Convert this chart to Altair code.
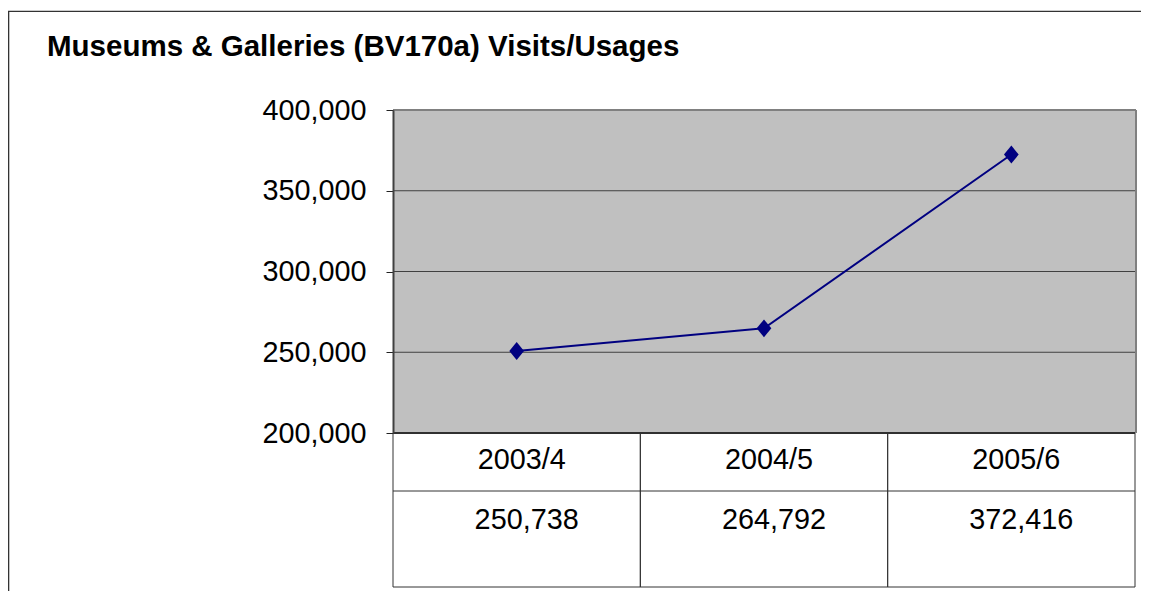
import altair as alt
import pandas as pd

title_text = "Museums & Galleries (BV170a) Visits/Usages"
years = ["2003/4", "2004/5", "2005/6"]
visits = [250738, 264792, 372416]
y_ticks = [200000, 250000, 300000, 350000, 400000]
grid_vals = [250000, 300000, 350000]

df = pd.DataFrame({"year": years, "visits": visits})
grid_df = pd.DataFrame({"v": grid_vals})
one = pd.DataFrame({"t": [title_text]})

W = 742          # plot width
H_PLOT = 323     # plot height
H_TAB = 154      # data table height
FONT = "Liberation Sans"
NAVY = "#000080"
LINE_C = "#333333"
FS = 28.8

x_scale = alt.Scale(domain=years, paddingInner=0, paddingOuter=0)
y_scale = alt.Scale(domain=[200000, 400000], nice=False, zero=False, range=[H_PLOT, 0])
y_axis = alt.Axis(
    values=y_ticks, format=",.0f", title=None, grid=False, zindex=1,
    labelFont=FONT, labelFontSize=FS, labelColor="black", labelPadding=20,
    tickSize=7, tickColor="#222222", tickWidth=1,
    domainColor="#404040", domainWidth=2,
)


def xenc(**kw):
    return alt.X("year:N", scale=x_scale, axis=None, sort=years, **kw)


def v(n):
    return alt.value(n)


bg = alt.Chart(one).mark_rect(color="#c0c0c0").encode(
    x=v(0), x2=v(W), y=v(0), y2=v(H_PLOT))
grid = alt.Chart(grid_df).mark_rule(color="#404040", strokeWidth=1).encode(
    y=alt.Y("v:Q", scale=y_scale, axis=y_axis), x=v(0), x2=v(W))
plot_top = alt.Chart(one).mark_rule(color="#808080", strokeWidth=2).encode(
    x=v(0), x2=v(W + 1), y=v(0))
plot_right = alt.Chart(one).mark_rule(color="#808080", strokeWidth=2).encode(
    x=v(W + 1), y=v(0), y2=v(H_PLOT))

# data table
vl_left = alt.Chart(df).mark_rule(color=LINE_C, strokeWidth=1).encode(
    x=xenc(bandPosition=0), y=v(H_PLOT), y2=v(H_PLOT + H_TAB))
vl_right = alt.Chart(df).mark_rule(color=LINE_C, strokeWidth=1).encode(
    x=xenc(bandPosition=1), y=v(H_PLOT), y2=v(H_PLOT + H_TAB))
h_mid = alt.Chart(one).mark_rule(color=LINE_C, strokeWidth=1).encode(
    x=v(0), x2=v(W), y=v(H_PLOT + 58))
h_bot = alt.Chart(one).mark_rule(color=LINE_C, strokeWidth=1).encode(
    x=v(0), x2=v(W), y=v(H_PLOT + H_TAB))
h_axis = alt.Chart(one).mark_rule(color="#303030", strokeWidth=2).encode(
    x=v(0), x2=v(W), y=v(H_PLOT))
cat_text = alt.Chart(df).mark_text(
    font=FONT, fontSize=FS, baseline="alphabetic", dx=5, color="black"
).encode(x=xenc(), y=v(H_PLOT + 36), text="year:N")
val_text = alt.Chart(df).mark_text(
    font=FONT, fontSize=FS, baseline="alphabetic", dx=10, color="black"
).encode(x=xenc(), y=v(H_PLOT + 96), text=alt.Text("visits:Q", format=",.0f"))

# series
line = alt.Chart(df).mark_line(color=NAVY, strokeWidth=2).encode(
    x=xenc(), y=alt.Y("visits:Q", scale=y_scale, axis=y_axis))
pts = alt.Chart(df).mark_point(
    shape="M-1,0L0,-1.22L1,0L0,1.22Z", filled=True, color=NAVY, size=216, opacity=1
).encode(x=xenc(), y=alt.Y("visits:Q", scale=y_scale, axis=y_axis))

# outer frame and title
frame_top = alt.Chart(one).mark_rule(color=LINE_C, strokeWidth=1.3).encode(
    x=v(-385), x2=v(W + 20), y=v(-98.7))
frame_left = alt.Chart(one).mark_rule(color=LINE_C, strokeWidth=1.3).encode(
    x=v(-384.35), y=v(-98.7), y2=v(H_PLOT + H_TAB + 20))
title = alt.Chart(one).mark_text(
    align="left", baseline="alphabetic", font=FONT, fontSize=29.5,
    fontWeight="bold", color="black"
).encode(x=v(-346), y=v(-54), text="t:N")

chart = alt.layer(
    bg, grid, plot_top, plot_right,
    vl_left, vl_right, h_mid, h_bot, h_axis, cat_text, val_text,
    line, pts, frame_top, frame_left, title,
).properties(
    width=W, height=H_PLOT + H_TAB,
    autosize=alt.AutoSizeParams(type="none"),
    padding={"top": 102, "left": 385, "right": 6, "bottom": 4},
).configure(background="white").configure_view(stroke="transparent")

chart.save("out.html", embed_options={"renderer": "svg", "actions": False})
